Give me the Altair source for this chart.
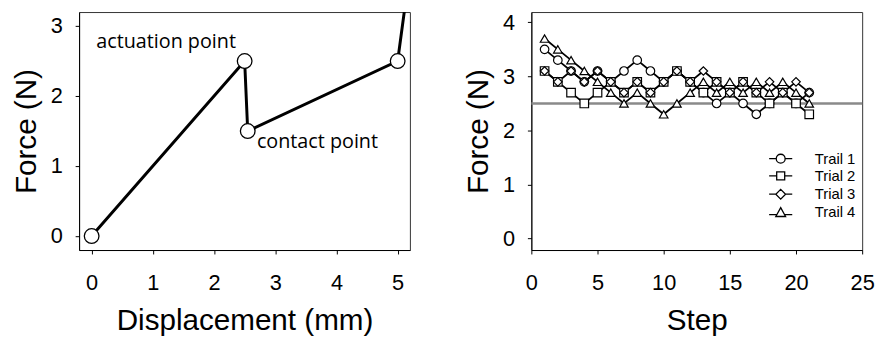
import altair as alt
import pandas as pd

# ---------------- Left panel data ----------------
disp_x = [0.0, 2.5, 2.55, 5.0, 5.2]
disp_force = [0.0, 2.5, 1.5, 2.5, 3.8]
marker_x = [0.0, 2.5, 2.55, 5.0]
marker_force = [0.0, 2.5, 1.5, 2.5]
ann_text = ["actuation point", "contact point"]
ann_x = [0.075, 2.70]
ann_y = [2.77, 1.34]

# ---------------- Right panel data ----------------
steps = list(range(1, 22))
trail1 = [3.5, 3.3, 3.1, 2.9, 3.1, 2.9, 3.1, 3.3, 3.1, 2.9, 3.1, 2.9, 2.7, 2.5, 2.7, 2.5, 2.3, 2.5, 2.7, 2.5, 2.7]
trial2 = [3.1, 2.9, 2.7, 2.5, 2.7, 2.9, 2.7, 2.9, 2.7, 2.9, 3.1, 2.9, 2.7, 2.9, 2.7, 2.9, 2.7, 2.5, 2.7, 2.5, 2.3]
trial3 = [3.1, 2.9, 3.1, 2.9, 3.1, 2.9, 2.7, 2.9, 2.7, 2.9, 3.1, 2.9, 3.1, 2.9, 2.7, 2.9, 2.7, 2.9, 2.7, 2.9, 2.7]
trail4 = [3.7, 3.5, 3.3, 3.1, 2.9, 2.7, 2.5, 2.7, 2.5, 2.3, 2.5, 2.7, 2.9, 2.7, 2.9, 2.7, 2.9, 2.7, 2.9, 2.7, 2.5]
series_names = ["Trail 1", "Trial 2", "Trial 3", "Trail 4"]
threshold = [2.5]

# ---------------- Tables ----------------
df_line = pd.DataFrame({"x": disp_x, "y": disp_force, "i": list(range(len(disp_x)))})
df_pts = pd.DataFrame({"x": marker_x, "y": marker_force})
df_ann = pd.DataFrame({"x": ann_x, "y": ann_y, "t": ann_text})

rows = []
for name, vals in zip(series_names, [trail1, trial2, trial3, trail4]):
    for s, v in zip(steps, vals):
        rows.append({"step": s, "force": v, "trial": name})
df_r = pd.DataFrame(rows)
df_ref = pd.DataFrame({"force": threshold})

# ---------------- Left panel ----------------
xl = alt.X("x:Q", scale=alt.Scale(domain=[-0.205, 5.2], nice=False, zero=False),
           axis=alt.Axis(values=[0, 1, 2, 3, 4, 5], title="Displacement (mm)"))
yl = alt.Y("y:Q", scale=alt.Scale(domain=[-0.2, 3.2], nice=False, zero=False),
           axis=alt.Axis(values=[0, 1, 2, 3], title="Force (N)"))

line_l = alt.Chart(df_line).mark_line(color="black", strokeWidth=3, clip=True).encode(
    x=xl, y=yl, order="i:Q")
pts_l = alt.Chart(df_pts).mark_point(filled=True, fill="white", stroke="black", strokeWidth=1.3,
                                     size=220, shape="circle", opacity=1).encode(x=xl, y=yl)
text_l = alt.Chart(df_ann).mark_text(align="left", baseline="middle", font="Open Sans",
                                     fontSize=20, color="black").encode(x=xl, y=yl, text="t:N")
left = alt.layer(line_l, pts_l, text_l).properties(width=335, height=241)

# ---------------- Right panel ----------------
xr = alt.X("step:Q", scale=alt.Scale(domain=[0, 25], nice=False, zero=False),
           axis=alt.Axis(values=[0, 5, 10, 15, 20, 25], title="Step"))
yr = alt.Y("force:Q", scale=alt.Scale(domain=[-0.21, 4.19], nice=False, zero=False),
           axis=alt.Axis(values=[0, 1, 2, 3, 4], title="Force (N)"))

ref = alt.Chart(df_ref).mark_rule(color="#8a8a8a", strokeWidth=2.5).encode(y=yr)
lines_r = alt.Chart(df_r).mark_line(color="black", strokeWidth=1.8).encode(
    x=xr, y=yr, detail="trial:N")
pts_r = alt.Chart(df_r).mark_point(filled=True, fill="white", stroke="black", strokeWidth=1.2,
                                   size=75, opacity=1).encode(
    x=xr, y=yr,
    shape=alt.Shape("trial:N",
                    scale=alt.Scale(domain=series_names,
                                    range=["circle", "square", "diamond", "triangle-up"]),
                    legend=None))

legend_paths = [
    "M-2.6,0H-1M1,0H2.6M1,0A1,1,0,1,1,-1,0A1,1,0,1,1,1,0Z",
    "M-2.6,0H-0.9M0.9,0H2.6M-0.9,-0.9H0.9V0.9H-0.9Z",
    "M-2.6,0H-1.1M1.1,0H2.6M0,-1.1L1.1,0L0,1.1L-1.1,0Z",
    "M-2.6,0.5H-0.9M0.9,0.5H2.6M0,-1.1L1.1,0.9H-1.1Z",
]
leg = alt.Chart(df_r).transform_filter("false").mark_point(
    filled=False, color="black", strokeWidth=1.3, size=81, opacity=1).encode(
    x=xr, y=yr,
    shape=alt.Shape("trial:N",
                    scale=alt.Scale(domain=series_names, range=legend_paths),
                    legend=alt.Legend(title=None, orient="none", legendX=245, legendY=141,
                                      labelFont="Liberation Sans", labelFontSize=15,
                                      labelColor="black", symbolSize=81,
                                      symbolStrokeWidth=1.3,
                                      symbolStrokeColor="black", labelOffset=27,
                                      rowPadding=1.5, symbolOpacity=1)))

right = alt.layer(ref, lines_r, pts_r, leg).resolve_scale(shape="independent").properties(
    width=335, height=241)

chart = alt.hconcat(left, right, spacing=53).properties(
    padding={"left": 3, "top": 0, "right": 0, "bottom": 0}
).configure_view(stroke="#333333", strokeWidth=1).configure_axis(
    labelFont="Liberation Sans", labelFontSize=22, labelColor="black",
    titleFont="Liberation Sans", titleFontSize=30, titleFontWeight="normal", titleColor="black",
    domainColor="black", domainWidth=1, tickColor="black", tickSize=4, grid=False,
    labelFlush=False, labelOverlap=False
).configure_axisX(labelPadding=19, titlePadding=12).configure_axisY(labelPadding=13, titlePadding=9)

chart.save("out.html", embed_options={"renderer": "svg", "actions": False})
